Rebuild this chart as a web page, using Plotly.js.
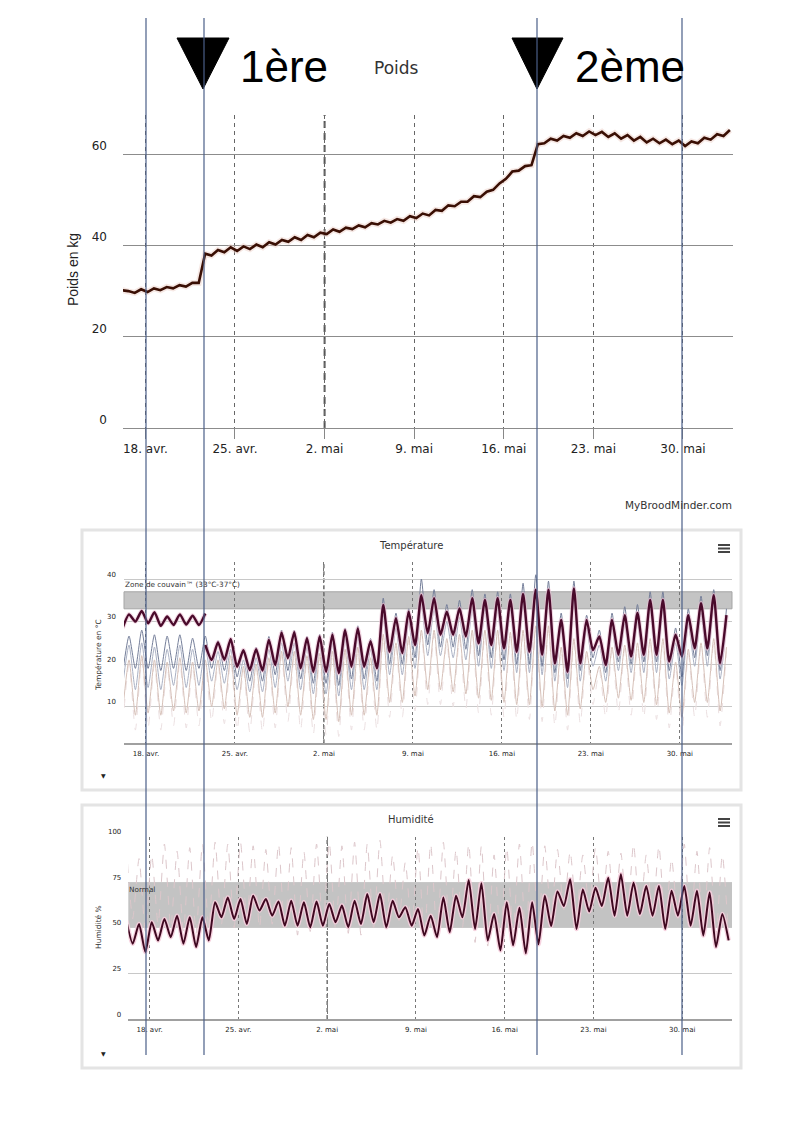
<!DOCTYPE html>
<html><head><meta charset="utf-8">
<script src="https://cdn.plot.ly/plotly-3.0.1.min.js"></script>
<style>html,body{margin:0;padding:0;background:#fff}#chart{width:794px;height:1123px}</style>
</head><body><div id="chart"></div>
<script>
// ---------- DATA (two samples per day: 04:00 and 16:00, starting 16 Apr) ----------
const startTime = Date.UTC(2018, 3, 16, 4, 0);
const tickVals = ['2018-04-18','2018-04-25','2018-05-02','2018-05-09','2018-05-16','2018-05-23','2018-05-30'];
const tickText = ['18. avr.','25. avr.','2. mai','9. mai','16. mai','23. mai','30. mai'];

// Poids en kg
const weight = [
 30.2,30.0, 29.6,30.4, 29.8,30.6, 30.2,30.9, 30.6,31.3, 31.0,31.8, 31.8,38.2,
 37.8,39.0, 38.5,39.6, 38.8,39.8, 39.2,40.2, 39.6,40.7,
 40.2,41.2, 40.8,41.8, 41.2,42.3, 41.8,42.8, 42.5,43.5,
 43.0,43.9, 43.6,44.4, 44.0,44.9, 44.6,45.4, 45.0,45.8,
 45.4,46.4, 46.0,47.0, 46.6,47.8, 47.6,48.8, 48.6,49.6,
 49.6,50.8, 50.6,51.8, 52.2,53.6, 54.6,56.2, 56.4,57.4,
 57.6,62.2, 62.4,63.4, 63.0,64.0, 63.6,64.6, 64.0,65.0,
 64.2,64.9, 63.8,64.6, 63.4,64.2, 63.0,63.8, 62.6,63.4,
 62.4,63.2, 62.2,63.0, 61.8,62.8, 62.4,63.6, 63.2,64.4,
 64.0,65.3];

// Température : couvain (avant / après la 1ère intervention)
const tempMainPre = [28.5,31.7, 30.0,32.5, 29.6,32.2, 29.0,31.2, 29.2,31.7, 29.3,31.4, 29.2,31.9];
const tempMainPost = [24.5,
 21.0,25.1, 21.0,25.9, 19.4,23.3, 18.6,23.5, 18.5,25.7,
 19.8,27.4, 21.4,27.5, 19.0,26.1, 18.2,26.5, 18.2,26.9,
 17.9,28.0, 19.4,28.4, 19.4,25.4, 19.0,33.9, 22.9,30.8,
 22.6,32.3, 24.5,36.2, 27.3,35.5, 26.9,32.3, 26.9,33.1,
 26.5,35.5, 24.9,35.1, 24.5,35.5, 23.7,35.1, 22.9,36.5,
 22.9,37.5, 22.2,37.5, 20.2,30.4, 18.2,37.8, 20.2,30.4,
 23.3,26.5, 19.8,30.4, 22.2,31.5, 21.8,32.0, 22.2,35.1,
 22.2,35.1, 20.6,26.9, 21.8,31.5, 23.7,34.3, 23.7,36.2,
 20.2,31.5];
const tempSensor2 = [
 18,26.6, 19,28.0, 19,26.9, 18.5,26.6, 19,26.9, 18.5,26.1, 19,26.6,
 19,25.5, 18.5,26, 17,23.5, 16,24, 16,26.5,
 17.5,28, 18.5,28, 16.5,26.5, 15.5,27, 15.5,27.5,
 15,28.5, 16.5,29, 16.5,26, 16,35.5, 20,32,
 20,33, 21.5,40, 24.5,37.5, 24,34, 24,35,
 23.5,37.5, 22,36.5, 21.5,37, 21,36.5, 20,39,
 20,41, 19.5,39.5, 18,32, 16.5,39.5, 18.5,31.5,
 21.5,28, 18,32, 20.5,33.5, 20,34, 20.5,37,
 20.5,37, 18.5,28.5, 17,33, 21.5,36, 22,37.5,
 18.5,33];
const tempSensor3 = [
 15,24.5, 14,25, 14.5,24, 14,23.5, 15,24.5, 14.5,23.5, 15,24,
 16,23, 15.5,23.5, 14,21, 13.5,21.5, 13.5,23.5,
 14.5,25, 16,25, 14,24, 13,24.5, 13,25,
 12.5,26, 14,26.5, 14,23.5, 14,31.5, 17.5,28.5,
 17.5,30, 19,34, 22,33, 22,30, 21.5,31,
 21,33, 19.5,33, 19,33, 18.5,33, 18,34.5,
 18,36, 17.5,36, 16,28.5, 14.5,35.5, 16,28.5,
 19.5,24.5, 16,28.5, 18.5,29.5, 18,30, 18,33,
 18,33, 16.5,25, 15,29.5, 19.5,32, 19.5,34,
 16.5,29.5];
const tempSensor4 = [
 9,21, 8,22, 8.5,21, 8,20.5, 9,21.5, 8.5,20.5, 9,21,
 10,21, 9.5,22, 8,19.5, 7.5,20, 7.5,21.5,
 8.5,23, 10,23, 8,22, 7,22.5, 7,23,
 6.5,23.5, 8,24, 8,21.5, 8,27, 11,25,
 11,26.5, 12.5,28, 14,28, 14,26, 13.5,27,
 13,28, 12,28, 11.5,28, 11,27.5, 10.5,28,
 10.5,29, 10,29, 9,24, 8,26, 9.5,23,
 14,19.5, 11,24, 12,24.5, 11.5,25, 11,26,
 10.5,26, 8.5,20.5, 7.5,23.5, 11,25, 11,26,
 9,24];
const tempOutside = [
 5.5,20, 4.5,21, 5,20, 4.5,19.5, 5.5,20.5, 5,19.5, 5.5,20,
 6.5,20, 6,21, 4.5,18.5, 4,19, 4,20.5,
 5,22, 6.5,22, 4.5,21, 3.5,21.5, 3.5,22,
 3,22.5, 4.5,23, 4.5,20.5, 4.5,26, 7.5,24,
 7.5,25.5, 9,27, 10.5,27, 10.5,25, 10,26,
 9.5,27, 8.5,27, 8,27, 7.5,26.5, 7,27,
 7,28, 6.5,28, 5.5,23, 4.5,25, 6,22,
 10.5,18.5, 7.5,23, 8.5,23.5, 8,24, 7.5,25,
 7,25, 5,19.5, 3.5,22.5, 7.5,24, 7.5,25,
 5.5,23];

// Humidité %
const humMain = [
 54,41.3, 52.1,36.7, 53.1,43.1, 54.9,44.9, 56.7,41.3, 55.8,39.5, 55.8,43.1,
 64.0,55.8, 66.7,54.9, 65.8,52.1, 67.6,59.5, 65.8,56.7,
 64.4,51.2, 64.9,51.2, 64.0,50.3, 64.4,51.2, 63.1,53.1,
 62.2,50.3, 64.9,52.1, 68.5,53.1, 68.5,50.3, 64.9,55.8,
 61.3,51.2, 60.4,45.8, 56.7,44.9, 66.7,47.6, 67.6,55.8,
 76.3,49.4, 74.5,43.1, 57.6,37.6, 64.0,40.4, 61.0,36.0,
 64.0,41.0, 67.6,51.0, 70.0,62.0, 76.6,49.4, 71.0,59.0,
 72.0,62.0, 77.5,56.7, 79.4,56.7, 74.8,57.6, 73.0,56.7,
 73.0,49.4, 70.3,56.7, 73.0,51.2, 70.3,45.8, 69.4,39.5,
 57.6,43.1];
const humOutside = [
 95,55, 88,48, 90,52, 96,50, 92,48, 94,47, 96,50,
 97,52, 96,50, 97,55, 95,50, 93,52,
 96,48, 94,46, 92,48, 96,50, 97,49,
 95,47, 97,46, 96,50, 98,52, 90,54,
 86,50, 94,45, 96,46, 97,48, 93,50,
 96,42, 95,40, 90,45, 94,48, 96,45,
 97,50, 95,55, 93,60, 92,58, 90,62,
 94,60, 92,58, 91,56, 96,55, 90,57,
 95,52, 88,55, 96,50, 92,48, 94,46,
 90,45];

// ---------- helpers ----------
function times(n, offset) {
  const a = [];
  for (let k = 0; k < n; k++) {
    a.push(new Date(startTime + (k + (offset || 0)) * 43200000).toISOString().slice(0, 16).replace('T', ' '));
  }
  return a;
}
const W = 794, H = 1123;
const px = x => x / W, py = y => 1 - y / H;
const FONT = 'DejaVu Sans, sans-serif';
const sp = (color, width, extra) => Object.assign({color, width, shape: 'spline', smoothing: 0.6}, extra || {});

const traces = [
  {x: times(weight.length), y: weight, xaxis: 'x', yaxis: 'y', mode: 'lines',
   line: {color: 'rgba(235,205,195,0.45)', width: 6}},
  {x: times(weight.length), y: weight, xaxis: 'x', yaxis: 'y', mode: 'lines',
   line: {color: '#3a0f04', width: 2.6}},

  {x: times(tempOutside.length), y: tempOutside, xaxis: 'x2', yaxis: 'y2', mode: 'lines',
   line: sp('#ebdfe0', 1, {dash: 'dash'})},
  {x: times(tempSensor4.length), y: tempSensor4, xaxis: 'x2', yaxis: 'y2', mode: 'lines',
   line: sp('#d6c0b8', 1)},
  {x: times(tempSensor3.length), y: tempSensor3, xaxis: 'x2', yaxis: 'y2', mode: 'lines',
   line: sp('#a9b0c3', 1)},
  {x: times(tempSensor2.length), y: tempSensor2, xaxis: 'x2', yaxis: 'y2', mode: 'lines',
   line: sp('#747e99', 1)},
  {x: times(tempMainPre.length), y: tempMainPre, xaxis: 'x2', yaxis: 'y2', mode: 'lines',
   line: sp('rgba(235,190,210,0.6)', 4.5)},
  {x: times(tempMainPost.length, 13), y: tempMainPost, xaxis: 'x2', yaxis: 'y2', mode: 'lines',
   line: sp('rgba(235,190,210,0.6)', 4.5)},
  {x: times(tempMainPre.length), y: tempMainPre, xaxis: 'x2', yaxis: 'y2', mode: 'lines',
   line: sp('#4a0a2b', 2.4)},
  {x: times(tempMainPost.length, 13), y: tempMainPost, xaxis: 'x2', yaxis: 'y2', mode: 'lines',
   line: sp('#4a0a2b', 2.4)},

  {x: times(humOutside.length), y: humOutside, xaxis: 'x3', yaxis: 'y3', mode: 'lines',
   line: sp('#dcc6ca', 1, {dash: 'dash'})},
  {x: times(humMain.length), y: humMain, xaxis: 'x3', yaxis: 'y3', mode: 'lines',
   line: sp('rgba(245,205,220,0.9)', 4.5)},
  {x: times(humMain.length), y: humMain, xaxis: 'x3', yaxis: 'y3', mode: 'lines',
   line: sp('#3f0820', 2)}
];

const xCommon = {type: 'date', tickvals: tickVals, ticktext: tickText, showgrid: true,
  zeroline: false, fixedrange: true};
const yCommon = {zeroline: false, showline: false, fixedrange: true, ticks: '', ticklabelposition: 'outside top'};

const shapes = [];
[[82, 530, 741, 790], [82, 805, 741, 1068]].forEach(b => shapes.push({type: 'rect', xref: 'paper', yref: 'paper',
  x0: px(b[0]), x1: px(b[2]), y0: py(b[3]), y1: py(b[1]), line: {color: '#e4e4e4', width: 3}, layer: 'below'}));
shapes.push({type: 'rect', xref: 'paper', yref: 'y2', x0: px(124), x1: px(732), y0: 33, y1: 37,
  fillcolor: '#c4c4c4', line: {color: '#a5a5a5', width: 1}, layer: 'below'});
shapes.push({type: 'rect', xref: 'paper', yref: 'y3', x0: px(128.3), x1: px(732), y0: 50, y1: 75,
  fillcolor: '#c3c3c3', line: {width: 0}, layer: 'below'});
shapes.push({type: 'line', xref: 'x', yref: 'y domain', x0: '2018-05-02', x1: '2018-05-02', y0: 0, y1: 1,
  line: {color: '#555', width: 2, dash: '7px,5px'}, layer: 'below'});
shapes.push({type: 'line', xref: 'x2', yref: 'y2 domain', x0: '2018-05-02', x1: '2018-05-02', y0: 0, y1: 1,
  line: {color: '#555', width: 1.2, dash: '4px,3px'}, layer: 'below'});
shapes.push({type: 'line', xref: 'x3', yref: 'y3 domain', x0: '2018-05-02', x1: '2018-05-02', y0: 0, y1: 1,
  line: {color: '#555', width: 1.2, dash: '4px,3px'}, layer: 'below'});
[545, 819].forEach(y => [0, 3.5, 7].forEach(d => shapes.push({type: 'line', xref: 'paper', yref: 'paper',
  x0: px(718), x1: px(730), y0: py(y + d), y1: py(y + d), line: {color: '#444', width: 2}})));
[[177, 229, 203], [512, 563, 537]].forEach(t => shapes.push({type: 'path', xref: 'paper', yref: 'paper',
  path: `M ${px(t[0])},${py(38)} L ${px(t[1])},${py(38)} L ${px(t[2])},${py(89)} Z`,
  fillcolor: '#000', line: {color: '#000', width: 1}}));
[146, 204, 537, 682].forEach(x => shapes.push({type: 'line', xref: 'paper', yref: 'paper',
  x0: px(x), x1: px(x), y0: py(18), y1: py(1055), line: {color: '#4a5e88', width: 1.2}}));

const ann = (text, x, y, size, opts) => Object.assign({text, x: px(x), y: py(y), xref: 'paper', yref: 'paper',
  showarrow: false, font: {family: FONT, size, color: '#333'}, xanchor: 'center', yanchor: 'middle'}, opts || {});

const annotations = [
  ann('1ère', 238, 67, 44, {xanchor: 'left', font: {family: 'Liberation Sans, Arial', size: 44, color: '#000'}}),
  ann('2ème', 573, 67, 44, {xanchor: 'left', font: {family: 'Liberation Sans, Arial', size: 44, color: '#000'}}),
  ann('Poids', 396, 68, 17),
  ann('Poids en kg', 73, 270, 14, {textangle: -90, font: {family: 'Liberation Sans, Arial', size: 14, color: '#222'}}),
  ann('MyBroodMinder.com', 734, 505, 10.5, {xanchor: 'right'}),
  ann('Température', 411, 545, 10),
  ann('Humidité', 411, 819, 10),
  ann('Température en °C', 98, 655, 7.5, {textangle: -90}),
  ann('Humidité %', 98, 927, 7.5, {textangle: -90}),
  ann('Zone de couvain™ (33°C-37°C)', 123, 584, 7.3, {xanchor: 'left'}),
  ann('Normal', 127, 889, 7.3, {xanchor: 'left'}),
  ann('▼', 103, 775, 6, {font: {family: FONT, size: 6, color: '#222'}}),
  ann('▼', 103, 1053, 6, {font: {family: FONT, size: 6, color: '#222'}})
];

const layout = {
  width: W, height: H, margin: {l: 0, r: 0, t: 0, b: 0}, paper_bgcolor: '#fff', plot_bgcolor: 'rgba(0,0,0,0)',
  showlegend: false, hovermode: false,
  xaxis: Object.assign({}, xCommon, {domain: [px(123), px(733)], anchor: 'y',
    range: ['2018-04-16 06:00', '2018-06-02 21:50'],
    gridcolor: '#666', griddash: '4px,4px', gridwidth: 1,
    showline: true, linecolor: '#8c8c8c', linewidth: 1,
    ticks: 'outside', ticklen: 10, tickcolor: '#888', tickfont: {family: FONT, size: 12, color: '#222'}}),
  yaxis: Object.assign({}, yCommon, {domain: [py(428), py(115)], anchor: 'x', range: [0, 68.6],
    tickvals: [0, 20, 40, 60], gridcolor: '#8c8c8c', gridwidth: 1, ticklabelstandoff: 15,
    tickfont: {family: FONT, size: 12, color: '#222'}}),
  xaxis2: Object.assign({}, xCommon, {domain: [px(124), px(732)], anchor: 'y2',
    range: ['2018-04-16 06:30', '2018-06-03 02:30'],
    gridcolor: '#777', griddash: 'dot', gridwidth: 1,
    showline: true, linecolor: '#a0a0a0', linewidth: 1.5,
    ticks: 'outside', ticklen: 3, tickcolor: 'rgba(0,0,0,0)', tickfont: {family: FONT, size: 7, color: '#222'}}),
  yaxis2: Object.assign({}, yCommon, {domain: [py(743.3), py(562)], anchor: 'x2', range: [1.4, 44],
    tickvals: [10, 20, 30, 40], gridcolor: '#c8c8c8', gridwidth: 1, ticklabelstandoff: 7,
    tickfont: {family: FONT, size: 7, color: '#222'}}),
  xaxis3: Object.assign({}, xCommon, {domain: [px(128.3), px(732)], anchor: 'y3',
    range: ['2018-04-16 07:40', '2018-06-02 22:20'],
    gridcolor: '#777', griddash: 'dot', gridwidth: 1,
    showline: true, linecolor: '#a0a0a0', linewidth: 1.5,
    ticks: 'outside', ticklen: 3, tickcolor: 'rgba(0,0,0,0)', tickfont: {family: FONT, size: 7, color: '#222'}}),
  yaxis3: Object.assign({}, yCommon, {domain: [py(1019), py(836.7)], anchor: 'x3', range: [0, 100],
    tickvals: [0, 25, 50, 75, 100], gridcolor: '#c8c8c8', gridwidth: 1, ticklabelstandoff: 6,
    tickfont: {family: FONT, size: 7, color: '#222'}}),
  shapes, annotations
};

Plotly.newPlot('chart', traces, layout, {staticPlot: true, displayModeBar: false});
</script></body></html>
